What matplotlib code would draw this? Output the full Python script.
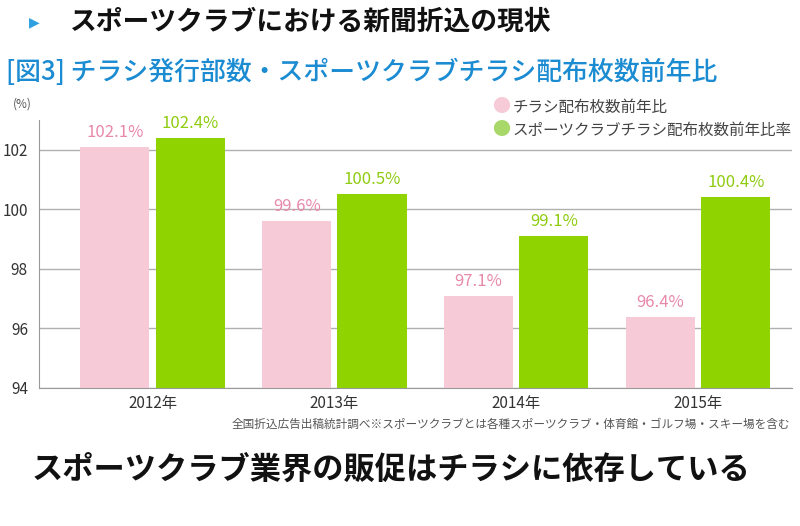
import matplotlib
matplotlib.use("Agg")
import matplotlib.pyplot as plt
import numpy as np

plt.rcParams['font.family'] = ['Noto Sans CJK JP', 'DejaVu Sans']

years = ["2012年", "2013年", "2014年", "2015年"]
flyer_ratio = [102.1, 99.6, 97.1, 96.4]
club_ratio = [102.4, 100.5, 99.1, 100.4]
series_names = ["チラシ配布枚数前年比", "スポーツクラブチラシ配布枚数前年比率"]
yticks = [94, 96, 98, 100, 102]

pink = "#f6cad6"
green = "#8fd400"
pink_txt = "#e888ab"
green_txt = "#8fcc10"
blue = "#1b8bd2"

fig = plt.figure(figsize=(8, 5.26), dpi=100)
ax = fig.add_axes([0.04875, 0.2624, 0.94125, 0.5095])

x = np.arange(len(years))
w = 0.38
off = 0.207
ax.bar(x - off, np.array(flyer_ratio) - 94, w, bottom=94, color=pink, zorder=2)
ax.bar(x + off, np.array(club_ratio) - 94, w, bottom=94, color=green, zorder=2)

for xi, v in zip(x, flyer_ratio):
    ax.text(xi - off, v + 0.2, f"{v}%", ha="center", va="bottom", color=pink_txt, fontsize=12)
for xi, v in zip(x, club_ratio):
    ax.text(xi + off, v + 0.2, f"{v}%", ha="center", va="bottom", color=green_txt, fontsize=12)

ax.set_ylim(94, 103)
ax.set_xlim(-0.624, 3.516)
ax.set_yticks(yticks)
ax.set_yticklabels([str(t) for t in yticks], fontsize=11, color="#333333")
ax.set_xticks(x)
ax.set_xticklabels(years, fontsize=11, color="#333333")
ax.tick_params(length=0, pad=5)
ax.tick_params(axis="y", pad=8)
ax.yaxis.grid(True, color="#b0b0b0", linewidth=1, zorder=0)
ax.set_axisbelow(True)
for s in ["top", "right"]:
    ax.spines[s].set_visible(False)
for s in ["left", "bottom"]:
    ax.spines[s].set_color("#999999")

# legend
fig.text(0.615, 1 - 107 / 526, "●", color=pink, fontsize=13, va="center", ha="left")
fig.text(0.641, 1 - 107 / 526, series_names[0], color="#444444", fontsize=11.2, va="center", ha="left")
fig.text(0.615, 1 - 130 / 526, "●", color="#a8d86a", fontsize=13, va="center", ha="left")
fig.text(0.641, 1 - 130 / 526, series_names[1], color="#444444", fontsize=11.2, va="center", ha="left")

fig.text(0.016, 1 - 104 / 526, "(%)", fontsize=8.5, color="#555555", va="center")

# titles
fig.text(0.036, 1 - 22 / 526, "▶", color="#2ea0e0", fontsize=10, va="center", family=['DejaVu Sans'])
fig.text(0.088, 1 - 22 / 526, "スポーツクラブにおける新聞折込の現状", fontsize=19.3, weight="bold",
         color="#111111", va="center")
fig.text(0.008, 1 - 72 / 526, "[図3] チラシ発行部数・スポーツクラブチラシ配布枚数前年比", fontsize=18.6,
         color=blue, va="center", weight="medium")
fig.text(0.988, 1 - 424 / 526, "全国折込広告出稿統計調べ※スポーツクラブとは各種スポーツクラブ・体育館・ゴルフ場・スキー場を含む",
         fontsize=8.4, color="#555555", va="center", ha="right")
fig.text(0.489, 1 - 470 / 526, "スポーツクラブ業界の販促はチラシに依存している", fontsize=22.5, weight="bold",
         color="#111111", va="center", ha="center")

fig.savefig("out.png", dpi=100)
